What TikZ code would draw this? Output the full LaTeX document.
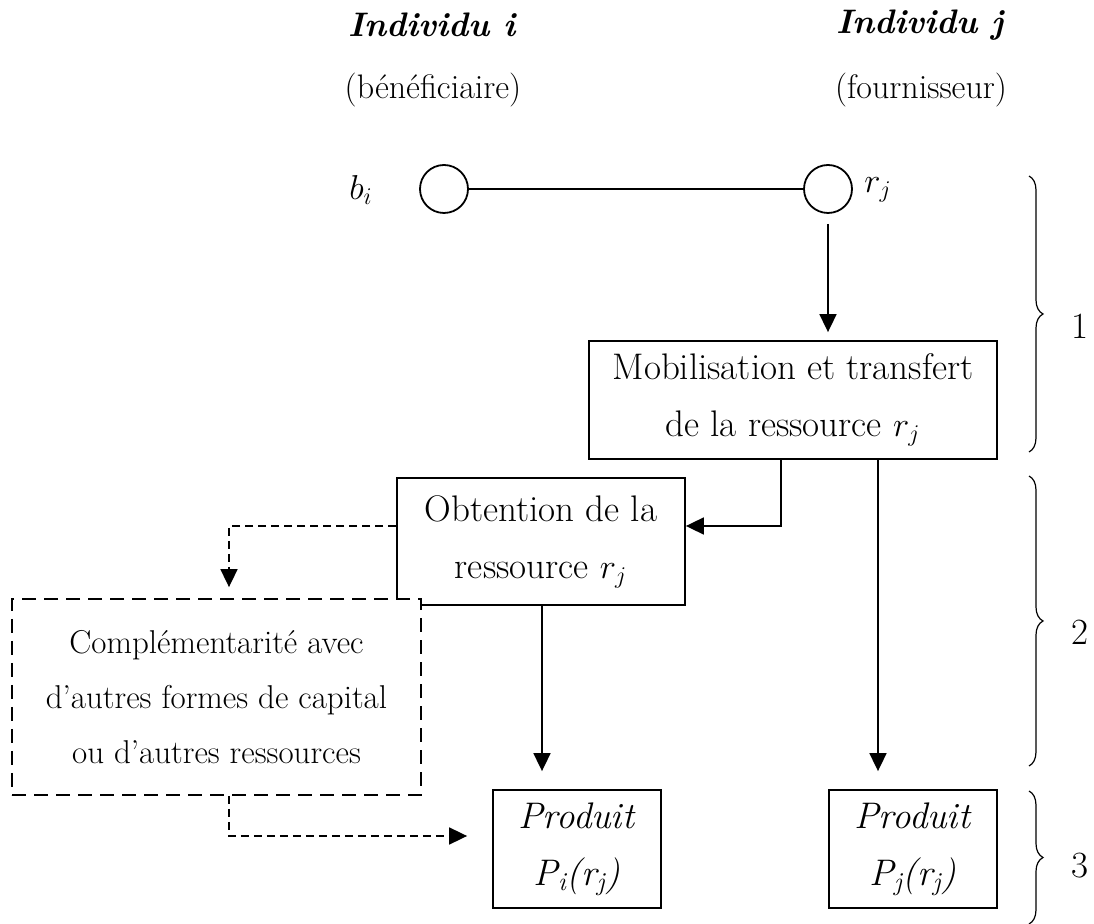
\documentclass[tikz,border=0pt]{standalone}
\usepackage{fontspec}
\usetikzlibrary{arrows.meta,decorations.pathreplacing}
\newcommand\hfontsz{\fontsize{17}{28.5}\selectfont}
\newcommand\mfont{\fontsize{18.5}{28.5}\selectfont}
\newcommand\sfontsz{\fontsize{16.5}{27.5}\selectfont}
\tikzset{
  box/.style={draw, line width=0.9pt, align=center, inner sep=0pt, font=\mfont},
  dbox/.style={draw, line width=0.9pt, align=center, inner sep=0pt, font=\sfontsz, fill=white, dash pattern=on 7pt off 4pt},
  arr/.style={line width=0.9pt, -{Triangle[length=9pt,width=8.5pt]}},
  darr/.style={line width=0.9pt, dash pattern=on 4pt off 2.5pt, -{Triangle[length=9pt,width=8.5pt]}},
  ring/.style={circle, draw, line width=0.9pt, minimum size=24pt, inner sep=0pt},
  lbl/.style={font=\hfontsz, inner sep=0pt},
  brc/.style={line width=0.6pt, decorate, decoration={brace, amplitude=7pt}}
}
\begin{document}
\begin{tikzpicture}[x=0.5pt, y=-0.5pt]
\useasboundingbox (0,0) rectangle (1094,924);
% headings
\node[lbl, font=\hfontsz\bfseries\itshape] (hi) at (432,25) {Individu i};
\node[lbl] (bi0) at (433,90) {(bénéficiaire)};
\node[lbl, font=\hfontsz\bfseries\itshape] (hj) at (920,25) {Individu j};
\node[lbl] (fj0) at (921,90) {(fournisseur)};
% circles
\node[ring] (ci) at (444,189) {};
\node[ring] (cj) at (828,189) {};
\node[lbl, font=\mfont] (bi) at (361,190) {$b_i$};
\node[lbl, font=\mfont] (rj) at (878,190) {$r_j$};
% boxes
\node[box, minimum width=204pt, minimum height=59pt] (mob) at (793,400) {Mobilisation et transfert\\de la ressource $r_j$};
\node[box, minimum width=144pt, minimum height=63.5pt] (obt) at (541,541.5) {Obtention de la\\ressource $r_j$};
\node[dbox, minimum width=204.5pt, minimum height=98pt] (comp) at (216.5,697) {Complémentarité avec\\d’autres formes de capital\\ou d{\char"0027}autres ressources};
\node[box, minimum width=84pt, minimum height=59pt] (pi) at (577,849) {\textit{Produit}\\\textit{P\textsubscript{i}(r\textsubscript{j})}};
\node[box, minimum width=84pt, minimum height=59pt] (pj) at (913,849) {\textit{Produit}\\\textit{P\textsubscript{j}(r\textsubscript{j})}};
% connectors
\draw[line width=0.9pt] (ci) -- (cj);
\draw[arr, shorten >=4pt] ([yshift=-5pt]cj.south) -- (cj |- mob.north);
\draw[arr] ([xshift=-6pt]mob.south) |- ([yshift=7.75pt]obt.east);
\draw[darr, shorten >=5.5pt] ([yshift=7.75pt]obt.west) -| ([xshift=6.25pt]comp.north);
\draw[darr, shorten >=12.5pt] ([xshift=6.25pt]comp.south) |- ([yshift=6.5pt]pi.west);
\draw[arr, shorten >=9pt] ([xshift=0.5pt]obt.south) -- ([xshift=0.5pt]obt.south |- pi.north);
\draw[arr, shorten >=9pt] ([xshift=42.5pt]mob.south) -- ([xshift=42.5pt]mob.south |- pj.north);
% braces
\draw[brc] (1029,176) -- (1029,452);
\draw[brc] (1029,476) -- (1029,766);
\draw[brc] (1029,791) -- (1029,924);
\node[lbl, font=\mfont] (n1) at (1080,326) {1};
\node[lbl, font=\mfont] (n2) at (1080,632) {2};
\node[lbl, font=\mfont] (n3) at (1080,866) {3};
\end{tikzpicture}
\end{document}
